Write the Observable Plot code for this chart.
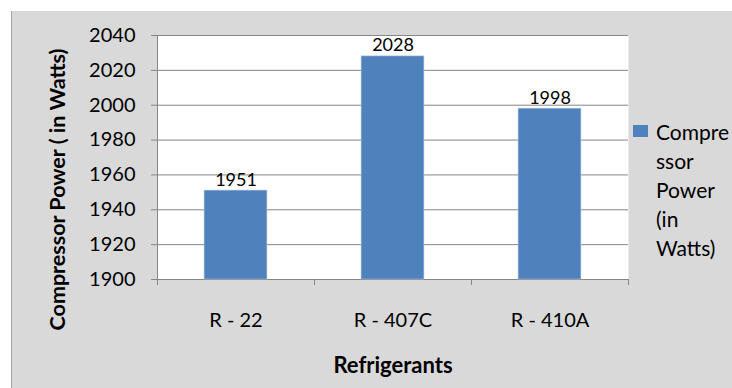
<!DOCTYPE html>
<html>
<head>
<meta charset="utf-8">
<script src="https://cdn.jsdelivr.net/npm/d3@7"></script>
<script src="https://cdn.jsdelivr.net/npm/@observablehq/plot@0.6"></script>
<style>
  html, body { margin: 0; padding: 0; background: #ffffff; }
  #chart { position: relative; width: 732px; height: 388px; font-family: Lato, "Open Sans", sans-serif; }
  #panel { position: absolute; left: 11px; top: 11px; width: 720px; height: 377px; background: #d9d9d9; border-left: 1px solid #a3a3a3; }
  #chart svg { position: absolute; left: 0; top: 0; }
  #legend { position: absolute; left: 633px; top: 117px; }
  #legend .swatch { position: absolute; left: 0; top: 8px; width: 15px; height: 12px; background: #4f81bd; }
  #legend .label { position: absolute; left: 23px; top: 0; width: 80px; font-size: 21px; line-height: 29px; color: #000; overflow-wrap: anywhere; }
</style>
</head>
<body>
<div id="chart"><div id="panel"></div></div>
<script>
// Compressor power drawn by each refrigerant
const categories = ["R - 22", "R - 407C", "R - 410A"];
const values = [1951, 2028, 1998];
const seriesName = "Compressor Power (in Watts)";
const yTicks = [1900, 1920, 1940, 1960, 1980, 2000, 2020, 2040];
const xTitle = "Refrigerants";
const yTitle = "Compressor Power ( in Watts)";

const data = categories.map((name, i) => ({name, i, value: values[i]}));
const yDomain = [yTicks[0], yTicks[yTicks.length - 1]];
const gray = "#868686";

const chart = Plot.plot({
  width: 732,
  height: 388,
  marginLeft: 157,
  marginRight: 104,
  marginTop: 35,
  marginBottom: 109,
  style: {fontFamily: "Lato, 'Open Sans', sans-serif", fontSize: "20px", color: "#000", background: "transparent", overflow: "visible"},
  x: {type: "linear", domain: [0, categories.length], axis: null},
  y: {domain: yDomain, axis: null},
  marks: [
    Plot.frame({fill: "#ffffff", stroke: null}),
    Plot.gridY(yTicks, {stroke: gray, strokeOpacity: 1}),
    Plot.axisY({ticks: yTicks, tickSize: 6, tickPadding: 16, stroke: gray, label: null, tickFormat: d => String(d)}),
    Plot.ruleX([0], {stroke: gray}),
    Plot.ruleY([yDomain[0]], {stroke: gray}),
    // tick marks at the band boundaries
    Plot.axisX({ticks: d3.range(categories.length + 1), tickSize: 6, stroke: gray, tickFormat: () => "", label: null}),
    // category names centered in each band
    Plot.axisX({ticks: data.map(d => d.i + 0.5), tickSize: 0, tickPadding: 33, label: null,
      tickFormat: v => categories[Math.floor(v)]}),
    Plot.rectY(data, {x1: d => d.i + 0.3, x2: d => d.i + 0.7, y1: yDomain[0], y2: "value", fill: "#4f81bd", stroke: "#a9c1e0", strokeWidth: 0.6}),
    Plot.text(data, {x: d => d.i + 0.5, y: "value", text: d => String(d.value), lineAnchor: "bottom", dy: -5, fontSize: 18}),
    Plot.text([xTitle], {frameAnchor: "bottom", text: d => d, dy: 86, fontWeight: "bold", fontSize: 22, lineAnchor: "middle"}),
    Plot.text([yTitle], {frameAnchor: "left", text: d => d, rotate: -90, textAnchor: "middle", lineAnchor: "middle", dx: -99, dy: 32, fontWeight: "bold", fontSize: 21.5})
  ]
});

const root = document.getElementById("chart");
root.appendChild(chart);

const legend = document.createElement("div");
legend.id = "legend";
legend.innerHTML = `<div class="swatch"></div><div class="label"></div>`;
legend.querySelector(".label").textContent = seriesName;
root.appendChild(legend);
</script>
</body>
</html>
